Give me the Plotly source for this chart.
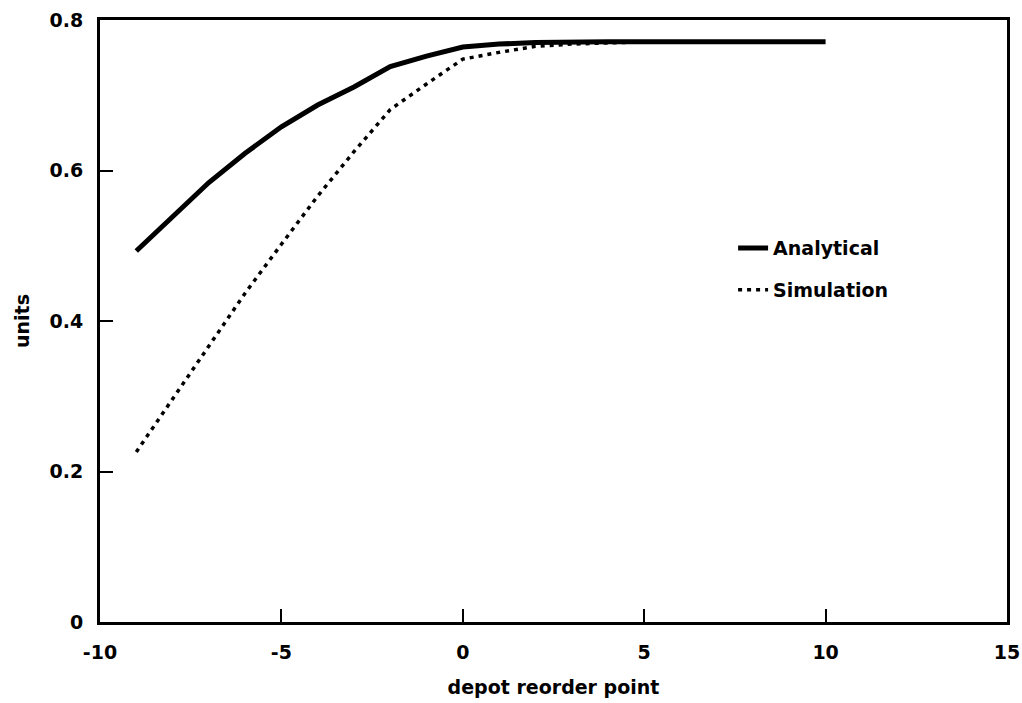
import plotly.graph_objects as go

x_vals = [-9, -8, -7, -6, -5, -4, -3, -2, -1, 0, 1, 2, 3, 4, 5, 6, 7, 8, 9, 10]
analytical = [0.493, 0.539, 0.584, 0.623, 0.658, 0.687, 0.711, 0.738, 0.752, 0.764,
              0.768, 0.770, 0.771, 0.771, 0.771, 0.771, 0.771, 0.771, 0.771, 0.771]
simulation = [0.226, 0.296, 0.366, 0.437, 0.502, 0.566, 0.625, 0.681, 0.715, 0.748,
              0.757, 0.765, 0.768, 0.770, 0.771, 0.771, 0.771, 0.771, 0.771, 0.771]

x_ticks = [-10, -5, 0, 5, 10, 15]
y_ticks = [0, 0.2, 0.4, 0.6, 0.8]

font_family = "DejaVu Sans, Liberation Sans, Arial, sans-serif"
fs = 19

fig = go.Figure()
fig.add_trace(go.Scatter(
    x=x_vals, y=analytical, mode="lines", name="Analytical",
    line=dict(color="black", width=5), legendgroup="a"))
fig.add_trace(go.Scatter(
    x=x_vals, y=simulation, mode="lines", name="Simulation",
    line=dict(color="black", width=3.5, dash="4px,5px"), legendgroup="s"))

fig.update_layout(
    width=1022, height=703,
    margin=dict(l=100, r=15, t=20, b=81, autoexpand=False),
    paper_bgcolor="white", plot_bgcolor="white",
    font=dict(family=font_family, size=fs, color="black", weight="bold"),
    showlegend=True,
    legend=dict(x=0.698, y=0.6525, xanchor="left", yanchor="top",
                bgcolor="rgba(0,0,0,0)", itemwidth=30,
                font=dict(size=fs, family=font_family, weight="bold"),
                traceorder="grouped", tracegroupgap=14),
)
fig.update_xaxes(
    range=[-10, 15], tickvals=x_ticks, ticktext=[str(v) for v in x_ticks],
    showgrid=False, zeroline=False, showline=True, linecolor="black", linewidth=3,
    mirror=True, ticks="inside", ticklen=13, tickwidth=2, tickcolor="black",
    tickfont=dict(size=fs, weight="bold"), ticklabelstandoff=11,
    title=dict(text="depot reorder point", font=dict(size=fs, weight="bold"), standoff=19),
)
fig.update_yaxes(
    range=[0, 0.8], tickvals=y_ticks, ticktext=["0", "0.2", "0.4", "0.6", "0.8"],
    showgrid=False, zeroline=False, showline=True, linecolor="black", linewidth=3,
    mirror=True, ticks="inside", ticklen=13, tickwidth=2, tickcolor="black",
    tickfont=dict(size=fs, weight="bold"), ticklabelstandoff=10,
    title=dict(text="units", font=dict(size=fs, weight="bold"), standoff=15),
)

fig.write_html("out.html", config={"displayModeBar": False},
               post_script="document.body.style.margin='0px';")
